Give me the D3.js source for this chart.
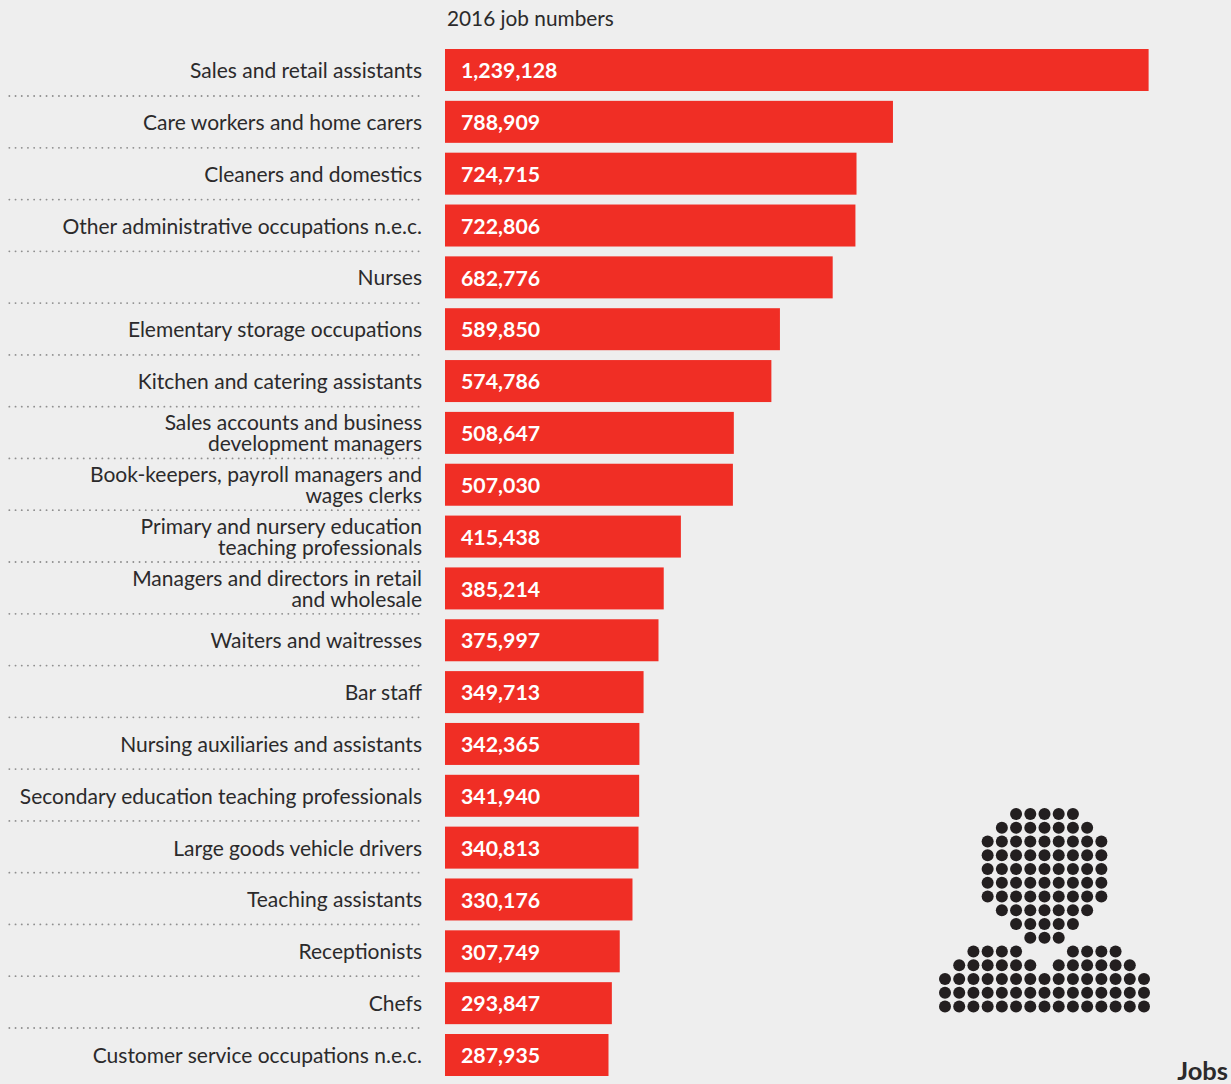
<!DOCTYPE html>
<html><head><meta charset="utf-8">
<script src="https://cdn.jsdelivr.net/npm/d3@7"></script>
<style>
html,body{margin:0;padding:0;background:#eeeeee;overflow:hidden}
text{font-family:Lato,"Noto Sans",sans-serif}
</style></head><body><svg id="c" width="1231" height="1084"></svg>
<script>
// Occupations, ordered by 2016 job count; "\n" splits two-line labels.
const occupations = [
  "Sales and retail assistants","Care workers and home carers","Cleaners and domestics",
  "Other administrative occupations n.e.c.","Nurses","Elementary storage occupations",
  "Kitchen and catering assistants","Sales accounts and business\ndevelopment managers",
  "Book-keepers, payroll managers and\nwages clerks","Primary and nursery education\nteaching professionals",
  "Managers and directors in retail\nand wholesale","Waiters and waitresses","Bar staff",
  "Nursing auxiliaries and assistants","Secondary education teaching professionals",
  "Large goods vehicle drivers","Teaching assistants","Receptionists","Chefs",
  "Customer service occupations n.e.c."
];
const jobs2016 = [1239128,788909,724715,722806,682776,589850,574786,508647,507030,415438,
  385214,375997,349713,342365,341940,340813,330176,307749,293847,287935];

// Person pictogram: each row lists its [first,last] dot columns.
const iconRows = [
  [[5,9]],[[4,10]],[[3,11]],[[3,11]],[[3,11]],[[3,11]],[[3,11]],[[4,10]],[[5,9]],[[6,8]],
  [[2,5],[9,12]],[[1,6],[8,13]],[[0,14]],[[0,14]],[[0,14]]
];

const svg = d3.select("#c");
const INK = "#2b2a2b", RED = "#f02e25";

const x = d3.scaleLinear().domain([0, 1239128]).range([445, 1148.6]);
const y = d3.scaleBand().domain(occupations).range([49, 1076]).paddingInner(0.19).paddingOuter(0);
// Row positions for the separators, which run on a slightly tighter rhythm than the bars.
const sep = d3.scaleLinear().domain([0, 18]).range([96, 1028]);

// Dotted separators sit between consecutive rows.
svg.append("g").selectAll("line").data(occupations.slice(0, -1)).join("line")
  .attr("x1", 9.3).attr("x2", 424)
  .attr("y1", (d, i) => sep(i)).attr("y2", (d, i) => sep(i))
  .attr("stroke", "#8f8f8f").attr("stroke-width", 1.8)
  .attr("stroke-linecap", "round").attr("stroke-dasharray", "0.1 6.1");

svg.append("g").selectAll("rect").data(occupations).join("rect")
  .attr("x", x(0)).attr("y", d => y(d))
  .attr("width", (d, i) => x(jobs2016[i]) - x(0)).attr("height", y.bandwidth())
  .attr("fill", RED);

svg.append("g").selectAll("text").data(occupations).join("text")
  .attr("x", 461).attr("y", d => y(d) + y.bandwidth() / 2 + 8.2)
  .attr("fill", "#fff").attr("font-size", 21.3).attr("font-weight", 700)
  .text((d, i) => d3.format(",")(jobs2016[i]));

const labels = svg.append("g").attr("fill", INK).attr("font-size", 21).attr("text-anchor", "end");
occupations.forEach(d => {
  const parts = d.split("\n");
  const mid = y(d) + y.bandwidth() / 2;
  parts.forEach((p, k) => {
    labels.append("text").attr("x", 422)
      .attr("y", parts.length === 1 ? mid + 8 : mid - 2.5 + k * 21)
      .text(p);
  });
});

svg.append("text").attr("x", 447).attr("y", 26).attr("fill", INK).attr("font-size", 20.8).text("2016 job numbers");
svg.append("text").attr("x", 1228).attr("y", 1080).attr("text-anchor", "end")
  .attr("fill", INK).attr("font-size", 25.5).attr("font-weight", 700).text("Jobs");

// Pictogram dots laid out on a regular grid.
const col = d3.scaleLinear().domain([0, 14]).range([945, 1144]);
const row = d3.scaleLinear().domain([0, 14]).range([814, 1006.4]);
const dots = iconRows.flatMap((spans, r) => spans.flatMap(([a, b]) => d3.range(a, b + 1).map(c => ({r, c}))));
svg.append("g").selectAll("circle").data(dots).join("circle")
  .attr("cx", d => col(d.c)).attr("cy", d => row(d.r)).attr("r", 6).attr("fill", "#231f20");
</script></body></html>
